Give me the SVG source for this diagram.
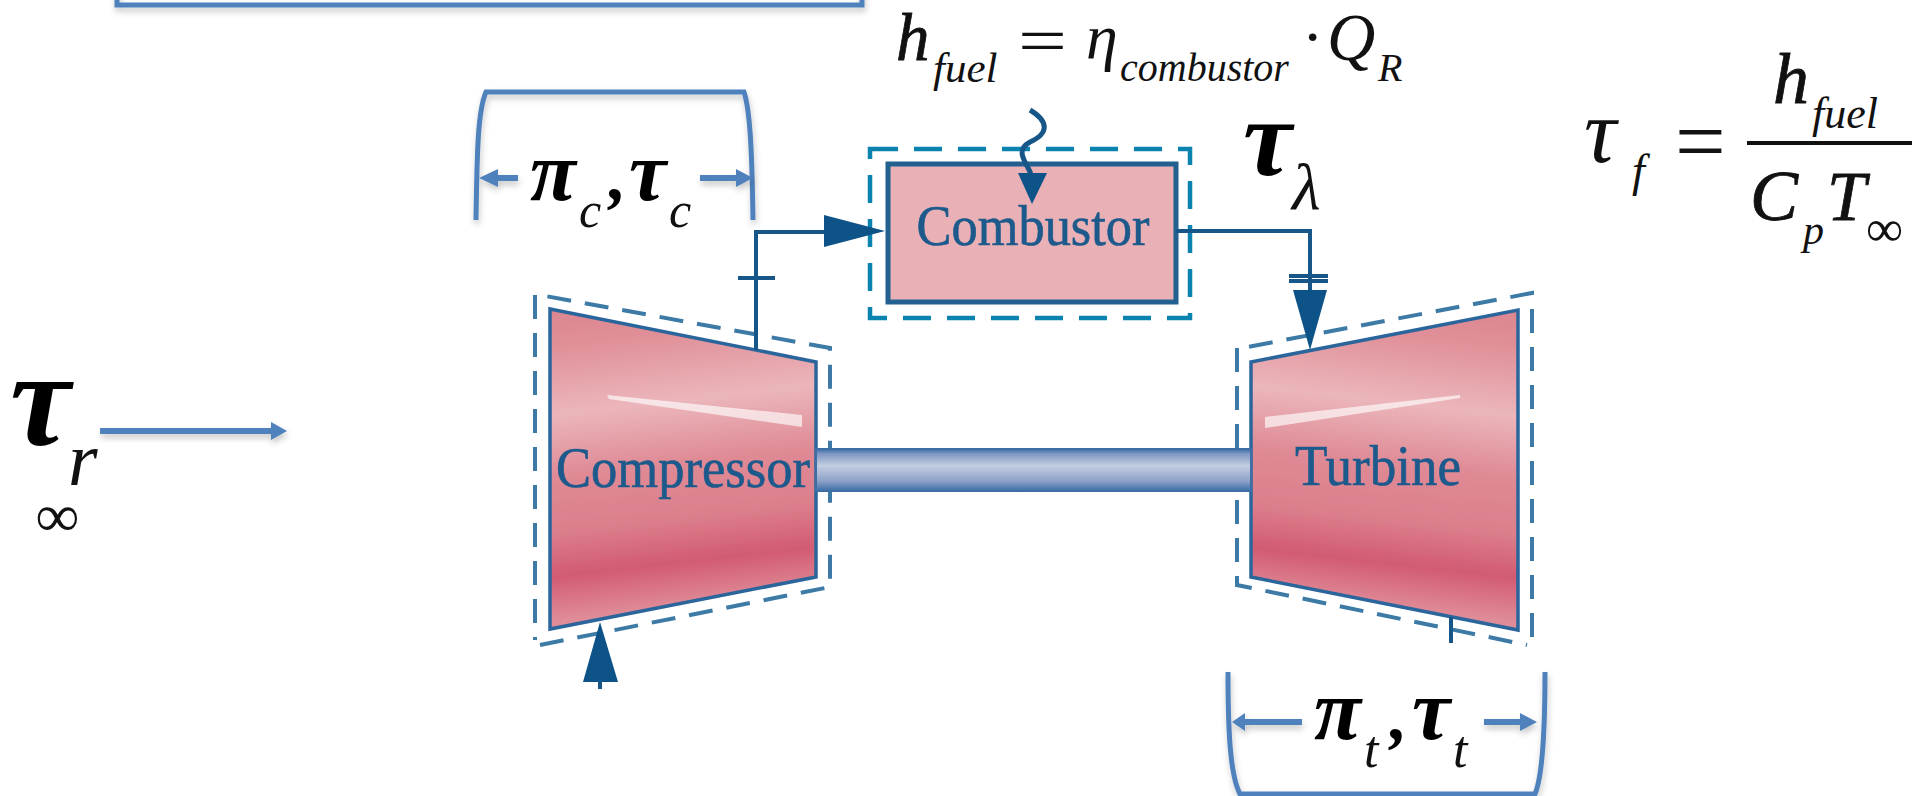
<svg xmlns="http://www.w3.org/2000/svg" width="1926" height="796" viewBox="0 0 1926 796">
<style>
.m{font-family:"Liberation Serif","Times New Roman",serif;font-style:italic;fill:#111}
.b{font-weight:bold;fill:#000}
.th{stroke:#111;stroke-width:.8}
.up{font-family:"Liberation Serif","Times New Roman",serif;fill:#111}
.lbl{font-family:"Liberation Serif","Times New Roman",serif;fill:#1f5a8c;stroke:#1f5a8c;stroke-width:.7;filter:url(#soft)}
.br{fill:none;stroke:#4f81bd;stroke-width:5;filter:url(#sh)}
.ah{fill:#4f81bd;stroke:none}
.k{fill:none;stroke:#135688;stroke-width:4;filter:url(#soft)}
.kh{fill:#0f5288;stroke:none;filter:url(#soft)}
.outline{stroke:#2a659c;stroke-width:3.500;filter:url(#soft)}
.dash{fill:none;stroke:#3c7aa6;stroke-width:4;stroke-dasharray:24 14;filter:url(#soft)}
.dash2{fill:none;stroke:#0a84ae;stroke-width:4.500;stroke-dasharray:28 16}
.hl{fill:#fff;opacity:.65;filter:url(#soft)}
</style>
<defs>
<filter id="sh" filterUnits="userSpaceOnUse" x="0" y="-20" width="1926" height="836"><feDropShadow dx="1" dy="4" stdDeviation="3" flood-color="#000" flood-opacity=".22"/></filter>
<filter id="soft" filterUnits="userSpaceOnUse" x="0" y="0" width="1926" height="796"><feGaussianBlur stdDeviation=".7"/></filter>
<linearGradient id="gc" gradientUnits="userSpaceOnUse" x1="655" y1="300" x2="693" y2="640">
<stop offset="0" stop-color="#dc8690"/><stop offset=".1" stop-color="#e08f98"/><stop offset=".3" stop-color="#ebb6bb"/><stop offset=".48" stop-color="#df8a95"/><stop offset=".64" stop-color="#dc7f8d"/><stop offset=".77" stop-color="#d25b72"/><stop offset=".9" stop-color="#e08c98"/><stop offset="1" stop-color="#e4909b"/>
</linearGradient>
<linearGradient id="gt" gradientUnits="userSpaceOnUse" x1="1405" y1="300" x2="1367" y2="640">
<stop offset="0" stop-color="#dc8690"/><stop offset=".1" stop-color="#e08f98"/><stop offset=".3" stop-color="#ebb6bb"/><stop offset=".48" stop-color="#df8a95"/><stop offset=".64" stop-color="#dc7f8d"/><stop offset=".77" stop-color="#d25b72"/><stop offset=".9" stop-color="#e08c98"/><stop offset="1" stop-color="#e4909b"/>
</linearGradient>
<linearGradient id="gs" x1="0" y1="0" x2="0" y2="1">
<stop offset="0" stop-color="#3c6ea6"/><stop offset=".12" stop-color="#8098c4"/><stop offset=".4" stop-color="#c3cde0"/><stop offset=".75" stop-color="#8fa3c9"/><stop offset="1" stop-color="#3c6ea6"/>
</linearGradient>
</defs>
<rect width="1926" height="796" fill="#fff"/>

<g id="top-box"><path class="br" d="M117-10V5H862V-10"/></g>

<g id="compressor">
<path class="dash" d="M535 295V640M540 645L830 587V348L540 295"/>
<polygon class="outline" points="550,309 816,362 816,577 550,629" fill="url(#gc)"/>
<polygon class="hl" points="607,395 802,415 802,427 609,399"/>
<text class="lbl" x="683" y="487" text-anchor="middle" font-size="58" textLength="254" lengthAdjust="spacingAndGlyphs">Compressor</text>
</g>

<g id="combustor">
<rect class="dash2" x="870" y="149" width="320" height="169"/>
<rect x="888" y="164" width="288" height="138" fill="#e9b1b6" stroke="#24608f" stroke-width="5" filter="url(#soft)"/>
<text class="lbl" x="1033" y="245" text-anchor="middle" font-size="58" textLength="233" lengthAdjust="spacingAndGlyphs">Combustor</text>
</g>

<g id="turbine">
<path class="dash" d="M1237 348V585L1527 645M1532 637V293L1242 348"/>
<polygon class="outline" points="1251,362 1518,310 1518,630 1251,577" fill="url(#gt)"/>
<polygon class="hl" points="1265,417 1460,395 1460,398 1265,428"/>
<text class="lbl" x="1378" y="485" text-anchor="middle" font-size="58" textLength="166" lengthAdjust="spacingAndGlyphs">Turbine</text>
</g>

<g id="shaft"><rect x="816" y="449" width="435" height="42" fill="url(#gs)" stroke="#3c6ea6" stroke-width="2" filter="url(#soft)"/></g>

<g id="connectors">
<path class="k" d="M756 350V232H830"/>
<path class="k" d="M738 278H775"/>
<polygon class="kh" points="824,215 885,231 824,247"/>
<path class="k" d="M1176 231H1310V320"/>
<path class="k" d="M1289 276H1328M1289 281H1328"/>
<polygon class="kh" points="1293,290 1327,290 1310,350"/>
<path class="k" style="stroke-width:5" d="M1030 110C1050 122 1048 134 1030 142C1012 152 1030 165 1032 178"/>
<polygon class="kh" points="1018,173 1047,173 1032,204"/>
<polygon class="kh" points="600,622 618,682 583,682"/>
<path class="k" d="M600 680V689"/>
<path class="k" d="M1451 617V643"/>
<path class="br" d="M476 220C477 150 478 110 486 92H744C750 110 752 150 753 220"/>
<path class="br" d="M1228 672C1228 730 1230 775 1240 794H1535C1543 775 1545 730 1545 672"/>
<g filter="url(#sh)">
<path class="ah" d="M498 175H518V181H498V187L479 178L498 169Z"/>
<path class="ah" d="M700 175H736V169L753 178L736 187V181H700Z"/>
<path class="ah" d="M1302 719H1245V713L1232 722L1245 731V725H1302Z"/>
<path class="ah" d="M1484 719H1520V713L1537 722L1520 731V725H1484Z"/>
<path class="ah" d="M100 428H271V422L287 431L271 440V434H100Z"/>
</g>
</g>

<g id="label-pi-c">
<text class="m b" x="530" y="200" font-size="84">π</text>
<text class="m" x="579" y="227" font-size="50">c</text>
<text class="m b" x="609" y="199" font-size="70">,</text>
<text class="m b" x="629" y="200" font-size="84">τ</text>
<text class="m" x="669" y="227" font-size="50">c</text>
</g>
<g id="label-pi-t">
<text class="m b" x="1314" y="739" font-size="86">π</text>
<text class="m" x="1364" y="767" font-size="52">t</text>
<text class="m b" x="1390" y="739" font-size="70">,</text>
<text class="m b" x="1412" y="739" font-size="86">τ</text>
<text class="m" x="1453" y="767" font-size="52">t</text>
</g>
<g id="label-tau-r">
<text class="m b" x="10" y="445" font-size="136">τ</text>
<text class="m" x="68" y="485" font-size="76">r</text>
<text class="up b" x="36" y="536" font-size="60">∞</text>
</g>
<g id="label-tau-lambda">
<text class="m b" x="1243" y="175" font-size="110">τ</text>
<text class="m" x="1292" y="209" font-size="66">λ</text>
</g>
<g id="eq-h-fuel">
<text class="m th" x="896" y="60" font-size="67">h</text>
<text class="m" x="933" y="82" font-size="43">fuel</text>
<text class="up" x="1018" y="63" font-size="66" textLength="49" lengthAdjust="spacingAndGlyphs">=</text>
<text class="m" x="1086" y="58" font-size="64">η</text>
<text class="m" x="1120" y="81" font-size="40">combustor</text>
<text class="up" x="1302" y="58" font-size="64">·</text>
<text class="m" x="1327" y="60" font-size="67">Q</text>
<text class="m" x="1378" y="81" font-size="40">R</text>
</g>
<g id="eq-tau-f">
<text class="m" x="1584" y="162" font-size="90">τ</text>
<text class="m" x="1632" y="186" font-size="46">f</text>
<text class="up" x="1675" y="172" font-size="90">=</text>
<path d="M1747 143H1912" stroke="#111" stroke-width="4"/>
<text class="m th" x="1773" y="103" font-size="72">h</text>
<text class="m" x="1812" y="128" font-size="44">fuel</text>
<text class="m th" x="1750" y="220" font-size="72">C</text>
<text class="m" x="1803" y="244" font-size="42">p</text>
<text class="m th" x="1827" y="220" font-size="70">T</text>
<text class="up" x="1866" y="246" font-size="52">∞</text>
</g>
</svg>
